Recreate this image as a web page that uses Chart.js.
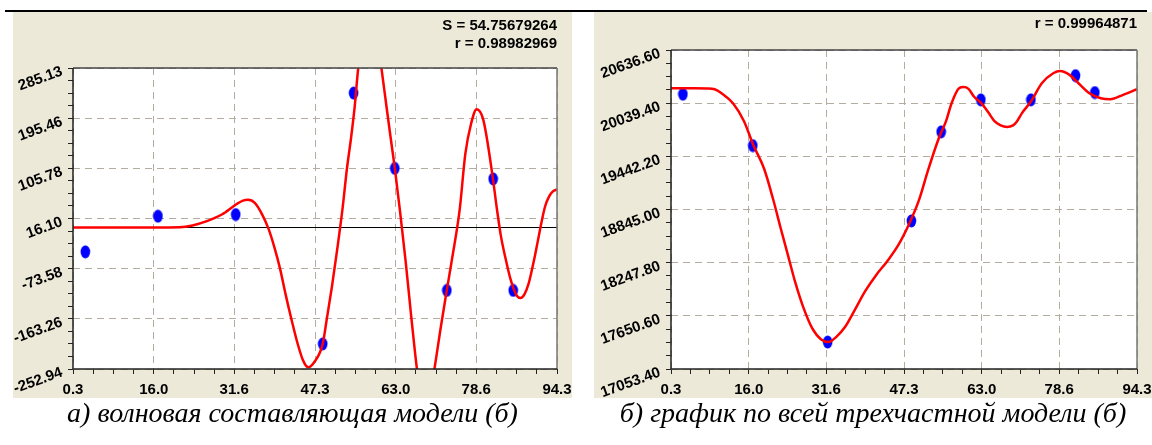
<!DOCTYPE html>
<html>
<head>
<meta charset="utf-8">
<script src="https://cdn.jsdelivr.net/npm/chart.js@4.4.1/dist/chart.umd.min.js"></script>
<style>
  body { margin: 0; background: #fff; width: 1152px; height: 445px; position: relative; overflow: hidden; }
  #topline { position: absolute; left: 5px; top: 10px; width: 1142px; height: 2px; background: #000; }
  canvas { position: absolute; background: #ece9d8; }
  #c1 { left: 13px; top: 12px; }
  #c2 { left: 594px; top: 12px; }
  .cap { position: absolute; top: 397px; font: italic 28px "Liberation Serif", "Times New Roman", serif; text-align: center; white-space: nowrap; color: #000; }
  #cap1 { left: 13px; width: 559px; }
  #cap2 { left: 594px; width: 558px; }
</style>
</head>
<body>
<div id="topline"></div>
<canvas id="c1" width="559" height="386"></canvas>
<canvas id="c2" width="558" height="386"></canvas>
<div class="cap" id="cap1">а) волновая составляющая модели (б)</div>
<div class="cap" id="cap2">б) график по всей трехчастной модели (б)</div>
<script>
// tick labels
const xTicks = ['0.3', '16.0', '31.6', '47.3', '63.0', '78.6', '94.3'];
const yTicksWave = ['-252.94', '-163.26', '-73.58', '16.10', '105.78', '195.46', '285.13'];
const yTicksFull = ['17053.40', '17650.60', '18247.80', '18845.00', '19442.20', '20039.40', '20636.60'];

// observed points (blue)
const obsX = [2.7, 16.8, 31.9, 48.8, 54.8, 62.8, 72.9, 81.9, 85.8];
const obsWave = [-43.5, 20.2, 23.2, -208.1, 240.3, 105.8, -112.5, 86.9, -112.5];
const obsFull = [20140, 19563, 17356, 18717, 19717, 20077, 20077, 20349, 20159];

// wave component model curve (red)
const waveX = [0.3, 8, 16, 21, 23.5, 26.3, 29.2, 32.1, 33.3, 34.3, 35.6, 37.0, 38.3, 39.4, 40.5, 41.6, 42.7, 44.0, 45.0, 46.0, 47.2, 48.8, 49.6, 50.6, 51.6, 52.6, 53.5, 54.3, 55.0, 55.7, 57.0, 58.0, 59.1, 60.2, 61.2, 62.0, 62.8, 63.8, 64.9, 66.0, 67.1, 67.9, 68.8, 69.7, 70.5, 71.7, 72.9, 73.9, 75.4, 76.5, 77.6, 78.7, 80.0, 81.8, 82.6, 83.4, 84.3, 85.2, 85.9, 86.5, 87.2, 88.0, 88.8, 89.8, 90.6, 91.3, 92.0, 92.8, 93.5, 94.3];
const waveY = [0, 0, 0, 0.5, 3.7, 11.4, 23.2, 42, 48, 49.5, 44, 24, -3, -35, -73, -120, -163, -210, -238, -250, -240, -208, -163, -105, -40, 30, 105, 160, 215, 285, 355, 380, 355, 285, 215, 160, 106, 30, -60, -160, -253, -300, -318, -300, -253, -180, -112, -57, 32, 132, 185, 211.6, 192, 91, 35, -15, -55, -90, -110, -122, -126, -119, -100, -60, -23, 10, 38, 56, 64.5, 68];

// full three-part model curve (red)
const fullX = [0.3, 5, 7.6, 9.1, 10.5, 12.8, 15.0, 16.9, 19.1, 20.9, 22.4, 23.9, 25.4, 26.9, 28.8, 30.6, 32.1, 33.6, 35.4, 37.3, 39.5, 41.7, 44.0, 46.2, 48.4, 50.3, 52.1, 54.3, 55.8, 56.9, 58.4, 59.3, 60.3, 61.4, 62.9, 64.4, 65.5, 66.8, 68.1, 69.3, 70.0, 71.1, 72.9, 75.1, 77.4, 78.8, 80.7, 82.5, 84.7, 87.0, 88.9, 91.5, 94.3];
const fullY = [20207, 20207, 20205, 20196, 20151, 20039, 19840, 19570, 19300, 18960, 18640, 18330, 18020, 17760, 17510, 17385, 17356, 17412, 17525, 17710, 17930, 18110, 18270, 18450, 18691, 18947, 19277, 19643, 19840, 20039, 20207, 20220, 20200, 20114, 20039, 19928, 19840, 19790, 19772, 19790, 19827, 19928, 20058, 20263, 20375, 20401, 20357, 20263, 20151, 20095, 20084, 20133, 20196];

// zero line of the wave chart
const zeroX = [0.3, 94.3];
const zeroY = [0, 0];

const FONT = '"Liberation Sans", Arial, sans-serif';
Chart.defaults.font.family = FONT;
Chart.defaults.color = '#000';

function pts(xs, ys) { return xs.map((x, i) => ({ x: x, y: ys[i] })); }

// majors from the label list, three minor ticks between each pair
function tickList(labels) {
  const v = labels.map(Number);
  const out = [];
  for (let i = 0; i < v.length; i++) {
    out.push({ value: v[i], maj: true, txt: labels[i] });
    if (i < v.length - 1) {
      for (let k = 1; k < 4; k++) out.push({ value: v[i] + (v[i + 1] - v[i]) * k / 4, maj: false, txt: '' });
    }
  }
  return out;
}

function axis(labels, pos, size) {
  return {
    type: 'linear',
    position: pos,
    min: Number(labels[0]),
    max: Number(labels[labels.length - 1]),
    afterBuildTicks: s => { s.ticks = tickList(labels); },
    afterFit: s => {
      if (pos === 'left') s.width = size; else s.height = size;
      s.paddingLeft = 0; s.paddingRight = 0; s.paddingTop = 0; s.paddingBottom = 0;
    },
    ticks: {
      display: pos !== 'left',   // y labels are drawn slanted by the yLabels plugin
      autoSkip: false,
      callback: (v, i, t) => t[i].txt,
      font: { size: 15, weight: 'bold' },
      color: '#000',
      padding: 7,
      maxRotation: 0
    },
    grid: {
      color: c => (c.tick && c.tick.maj) ? '#b3ad9f' : 'rgba(0,0,0,0)',
      tickColor: '#222',
      tickLength: 5,
      lineWidth: 1
    },
    border: { display: false, dash: [7, 5] }
  };
}

function dot() {
  const c = document.createElement('canvas');
  c.width = 11; c.height = 14;
  const g = c.getContext('2d');
  g.fillStyle = '#0000ff';
  g.beginPath();
  g.ellipse(5.5, 7, 4.8, 6.4, 0, 0, Math.PI * 2);
  g.fill();
  return c;
}

const plotFrame = {
  id: 'plotFrame',
  beforeDraw(ch) {
    const a = ch.chartArea, g = ch.ctx;
    g.save();
    g.fillStyle = '#ffffff';
    g.fillRect(a.left, a.top, a.right - a.left, a.bottom - a.top);
    g.restore();
  },
  afterDraw(ch) {
    const a = ch.chartArea, g = ch.ctx;
    g.save();
    g.lineWidth = 1.5;
    g.strokeStyle = '#444';
    g.beginPath(); g.moveTo(a.left, a.top); g.lineTo(a.right, a.top); g.stroke();
    g.strokeStyle = '#777';
    g.beginPath(); g.moveTo(a.right, a.top); g.lineTo(a.right, a.bottom); g.stroke();
    g.strokeStyle = '#222';
    g.beginPath(); g.moveTo(a.left, a.top); g.lineTo(a.left, a.bottom); g.lineTo(a.right, a.bottom); g.stroke();
    g.restore();
  }
};

// slanted y tick labels, placed with the y scale
const yLabels = {
  id: 'yLabels',
  afterDraw(ch) {
    const s = ch.scales.y, g = ch.ctx;
    g.save();
    g.font = 'bold 15px ' + FONT;
    g.fillStyle = '#000';
    g.textAlign = 'right';
    g.textBaseline = 'middle';
    s.ticks.forEach(t => {
      if (!t.maj) return;
      g.save();
      g.translate(s.right - 11, s.getPixelForValue(t.value) + 3);
      g.rotate(-20 * Math.PI / 180);
      g.fillText(t.txt, 0, 0);
      g.restore();
    });
    g.restore();
  }
};

function build(id, yTickLabels, yWidth, obsY, curveX, curveY, titleLines, titlePad, withZero) {
  const ds = [
    { type: 'line', data: pts(curveX, curveY), borderColor: '#ff0000', borderWidth: 2.5, pointRadius: 0,
      cubicInterpolationMode: 'monotone', order: 0, clip: 0 },
    { type: 'scatter', data: pts(obsX, obsY), pointStyle: dot(), pointRadius: 5, order: 1 }
  ];
  if (withZero) {
    ds.push({ type: 'line', data: pts(zeroX, zeroY), borderColor: '#000', borderWidth: 1, pointRadius: 0, order: 2 });
  }
  return new Chart(document.getElementById(id), {
    type: 'scatter',
    data: { datasets: ds },
    options: {
      responsive: false,
      animation: false,
      layout: { padding: { left: 0, right: 15, top: 0, bottom: 0 } },
      scales: {
        x: axis(xTicks, 'bottom', 29),
        y: axis(yTickLabels, 'left', yWidth)
      },
      plugins: {
        legend: { display: false },
        tooltip: { enabled: false },
        title: {
          display: true,
          text: titleLines,
          align: 'end',
          color: '#000',
          font: { size: 15, weight: 'bold', lineHeight: 1.2 },
          padding: titlePad
        }
      }
    },
    plugins: [plotFrame, yLabels]
  });
}

build('c1', yTicksWave, 60, obsWave, waveX, waveY, ['S = 54.75679264', 'r = 0.98982969'], { top: 5, bottom: 15 }, true);
build('c2', yTicksFull, 77, obsFull, fullX, fullY, ['r = 0.99964871'], { top: 3, bottom: 17 }, false);
</script>
</body>
</html>
